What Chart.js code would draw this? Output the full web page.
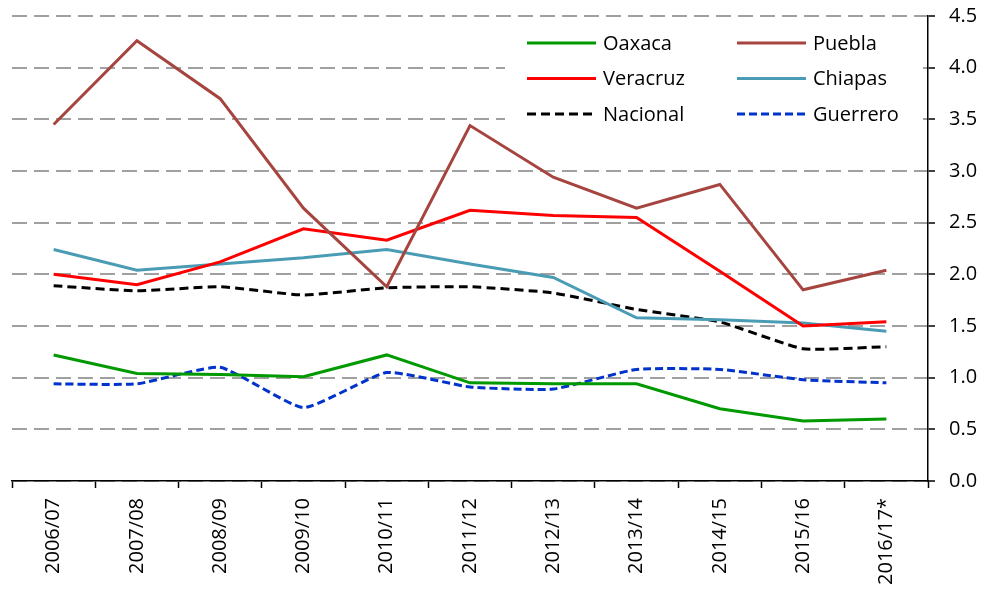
<!DOCTYPE html>
<html>
<head>
<meta charset="utf-8">
<script src="https://cdn.jsdelivr.net/npm/chart.js@4"></script>
<style>
  html, body { margin: 0; padding: 0; background: #fff; }
  #wrap { width: 984px; height: 592px; }
</style>
</head>
<body>
<div id="wrap"><canvas id="grafica" width="984" height="592"></canvas></div>
<script>
const ciclos = ['2006/07', '2007/08', '2008/09', '2009/10', '2010/11', '2011/12', '2012/13', '2013/14', '2014/15', '2015/16', '2016/17*'];

const oaxaca   = [1.22, 1.04, 1.03, 1.01, 1.22, 0.95, 0.94, 0.94, 0.70, 0.58, 0.60];
const puebla   = [3.45, 4.26, 3.70, 2.64, 1.88, 3.44, 2.94, 2.64, 2.87, 1.85, 2.04];
const veracruz = [2.00, 1.90, 2.12, 2.44, 2.33, 2.62, 2.57, 2.55, 2.03, 1.50, 1.54];
const chiapas  = [2.24, 2.04, 2.10, 2.16, 2.24, 2.10, 1.97, 1.58, 1.56, 1.53, 1.45];
const nacional = [1.89, 1.84, 1.88, 1.80, 1.87, 1.88, 1.82, 1.66, 1.54, 1.28, 1.30];
const guerrero = [0.94, 0.94, 1.10, 0.71, 1.05, 0.91, 0.89, 1.08, 1.08, 0.98, 0.95];

const yTicks = [0, 0.5, 1, 1.5, 2, 2.5, 3, 3.5, 4, 4.5];

const fuente = '"Open Sans", sans-serif';

function serie(label, data, color, dash, tension) {
  return {
    label: label,
    data: data,
    borderColor: color,
    backgroundColor: color,
    borderWidth: 3,
    borderDash: dash || [],
    pointRadius: 0,
    tension: tension || 0,
    fill: false
  };
}

// leyenda dentro del area, dos columnas
const leyendaInterna = {
  id: 'leyendaInterna',
  afterDraw(chart) {
    const ctx = chart.ctx;
    ctx.save();
    ctx.fillStyle = '#fff';
    ctx.fillRect(505, 21, 418, 106);
    ctx.font = '20px ' + fuente;
    ctx.textBaseline = 'middle';
    chart.data.datasets.forEach((ds, i) => {
      const col = i % 2;
      const fila = Math.floor(i / 2);
      const x0 = col === 0 ? 527 : 737;
      const y = 43 + fila * 35.5;
      ctx.strokeStyle = ds.borderColor;
      ctx.lineWidth = ds.borderWidth;
      ctx.setLineDash(ds.borderDash);
      ctx.beginPath();
      ctx.moveTo(x0, y);
      ctx.lineTo(x0 + 69, y);
      ctx.stroke();
      ctx.setLineDash([]);
      ctx.fillStyle = '#000';
      ctx.fillText(ds.label, x0 + 76, y + 1);
    });
    ctx.restore();
  }
};

new Chart(document.getElementById('grafica'), {
  type: 'line',
  data: {
    labels: ciclos,
    datasets: [
      serie('Oaxaca', oaxaca, '#009900'),
      serie('Puebla', puebla, '#A6453F'),
      serie('Veracruz', veracruz, '#FF0000'),
      serie('Chiapas', chiapas, '#4A9CB4'),
      serie('Nacional', nacional, '#000000', [9, 5], 0.15),
      serie('Guerrero', guerrero, '#0033CC', [8, 4], 0.15)
    ]
  },
  options: {
    responsive: false,
    animation: false,
    layout: { padding: { top: 16, left: 12, right: 0, bottom: 0 } },
    plugins: {
      legend: { display: false },
      tooltip: { enabled: false }
    },
    scales: {
      x: {
        offset: true,
        grid: {
          offset: true,
          drawOnChartArea: false,
          drawTicks: true,
          tickLength: 7,
          tickColor: '#000',
          tickWidth: 1.5
        },
        border: { color: '#000', width: 1.5 },
        ticks: {
          color: '#000',
          font: { family: fuente, size: 20 },
          minRotation: 90,
          maxRotation: 90,
          autoSkip: false,
          padding: 10
        },
        afterFit(scale) { scale.height = 111; }
      },
      y: {
        position: 'right',
        min: 0,
        max: 4.5,
        afterBuildTicks(scale) {
          scale.ticks = yTicks.map(v => ({ value: v }));
        },
        grid: {
          color: '#A0A0A0',
          lineWidth: 2,
          drawTicks: true,
          tickLength: 7,
          tickColor: '#000',
          tickWidth: 1.5
        },
        border: { color: '#000', width: 1.5, dash: [15, 7] },
        ticks: {
          color: '#000',
          font: { family: fuente, size: 20 },
          padding: 14,
          callback: v => Number(v).toFixed(1)
        },
        afterFit(scale) {
          scale.width = 56;
          scale.paddingTop = 0;
          scale.paddingBottom = 0;
        }
      }
    }
  },
  plugins: [leyendaInterna]
});
</script>
</body>
</html>
